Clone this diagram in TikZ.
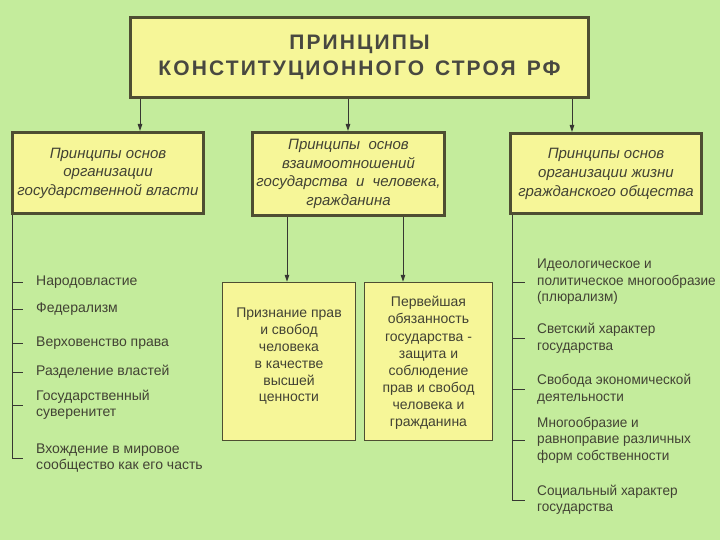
\documentclass[tikz,border=0pt]{standalone}
\usepackage{fontspec}
\setmainfont{Liberation Sans}
\usetikzlibrary{arrows.meta}
\definecolor{bg}{RGB}{196,236,156}
\definecolor{boxfill}{RGB}{246,246,152}
\definecolor{boxline}{RGB}{78,78,50}
\definecolor{ink}{RGB}{66,66,52}
\definecolor{conn}{RGB}{55,55,50}
\begin{document}
\begin{tikzpicture}[x=1pt,y=-1pt,
  bigbox/.style={draw=boxline, line width=3pt, fill=boxfill, inner sep=0pt, align=center, text=ink},
  smallbox/.style={draw=boxline, line width=1.5pt, fill=boxfill, inner sep=0pt, align=center, text=ink},
  ttl/.style={font=\fontsize{15}{18.5}\selectfont\itshape},
  item/.style={text=ink, font=\fontsize{14}{16.5}\selectfont, align=left, anchor=west, inner sep=0pt},
  ritem/.style={item, font=\fontsize{14}{16.5}\selectfont\addfontfeature{FakeStretch=0.97}},
  ctr/.style={font=\fontsize{14}{16.8}\selectfont},
  conn/.style={draw=conn, line width=0.9pt},
  arr/.style={conn, -{Triangle[length=7pt,width=4.5pt]}}]
\useasboundingbox (0,0) rectangle (720,540);
\fill[bg] (0,0) rectangle (720,540);
% top box
\node[bigbox, minimum width=458pt, minimum height=80pt, text={rgb,255:red,72;green,72;blue,64},
  font=\fontsize{21}{26}\selectfont\bfseries\addfontfeature{LetterSpace=10}] (top) at (359.5,57.5)
  {ПРИНЦИПЫ\\КОНСТИТУЦИОННОГО\hspace{3pt} СТРОЯ\hspace{3pt} РФ};
% second level
\node[bigbox, ttl, minimum width=191pt, minimum height=81pt] (b1) at (108,173)
  {Принципы основ\\организации\\государственной власти};
\node[bigbox, ttl, minimum width=192pt, minimum height=83pt] (b2) at (348.5,174)
  {Принципы \ основ\\взаимоотношений\\государства \ и \ человека,\\гражданина};
\node[bigbox, ttl, font=\fontsize{15}{19}\selectfont\itshape, minimum width=191pt, minimum height=80pt] (b3) at (606,173.5)
  {Принципы основ\\организации жизни\\гражданского общества};
% lower middle boxes
\node[smallbox, minimum width=133pt, minimum height=158pt] (c1) at (289,361.5) {};
\node[ctr, text=ink, align=center] at (289,356.5)
  {Признание прав\\и свобод\\человека\\в качестве\\высшей\\ценности};
\node[smallbox, minimum width=128pt, minimum height=158pt] (c2) at (428.5,361.5) {};
\node[ctr, text=ink, align=center, font=\fontsize{14}{17.1}\selectfont] at (428.5,363)
  {Первейшая\\обязанность\\государства -\\защита и\\соблюдение\\прав и свобод\\человека и\\гражданина};
% connectors from top
\coordinate (s1) at (140,0);
\coordinate (s2) at (348,0);
\coordinate (s3) at (572,0);
\draw[arr] (top.south -| s1) -- (b1.north -| s1);
\draw[arr] (top.south -| s2) -- (b2.north -| s2);
\draw[arr] (top.south -| s3) -- (b3.north -| s3);
\coordinate (m1) at (287,0);
\coordinate (m2) at (403,0);
\draw[arr] (b2.south -| m1) -- (c1.north -| m1);
\draw[arr] (b2.south -| m2) -- (c2.north -| m2);
% left list
\node[item] (l1) at (36,282) {Народовластие};
\node[item] (l2) at (36,309) {Федерализм};
\node[item] (l3) at (36,343) {Верховенство права};
\node[item] (l4) at (36,372) {Разделение властей};
\node[item, font=\fontsize{14}{16}\selectfont] (l5) at (36,405) {Государственный\\суверенитет};
\node[item, font=\fontsize{14}{16}\selectfont] (l6) at (36,458) {Вхождение в мировое\\сообщество как его часть};
\coordinate (ls) at (12,0);
\draw[conn] (b1.south -| ls) -- (l6.west -| ls);
\foreach \n in {l1,l2,l3,l4,l5,l6} \draw[conn] (\n.west -| ls) -- ++(11,0);
% right list
\node[ritem] (r1) at (537,282) {Идеологическое и\\политическое многообразие\\(плюрализм)};
\node[ritem] (r2) at (537,338.5) {Светский характер\\государства};
\node[ritem] (r3) at (537,389) {Свобода экономической\\деятельности};
\node[ritem] (r4) at (537,440) {Многообразие и\\равноправие различных\\форм собственности};
\node[ritem] (r5) at (537,500) {Социальный характер\\государства};
\coordinate (rs) at (512,0);
\draw[conn] (b3.south -| rs) -- (r5.west -| rs);
\foreach \n in {r1,r2,r3,r4,r5} \draw[conn] (\n.west -| rs) -- ++(13,0);
\end{tikzpicture}
\end{document}
